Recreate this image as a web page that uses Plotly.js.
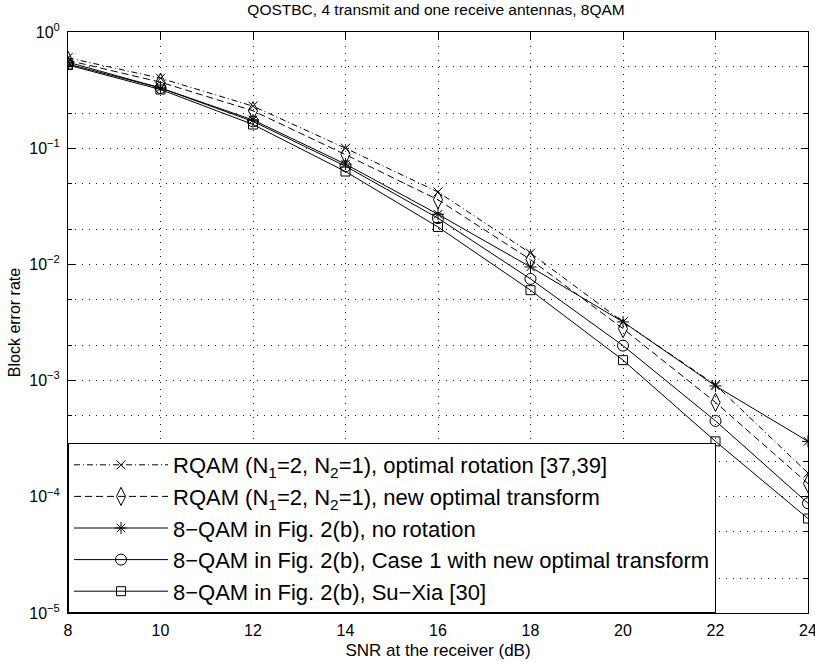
<!DOCTYPE html>
<html>
<head>
<meta charset="utf-8">
<script src="https://cdn.plot.ly/plotly-3.0.1.min.js"></script>
<style>html,body{margin:0;padding:0;background:#fff;overflow:hidden;}#chart{width:815px;height:662px;}</style>
</head>
<body>
<div id="chart"></div>
<script>
const snr = [8, 10, 12, 14, 16, 18, 20, 22, 24];
const rqamRotation = [0.60, 0.40, 0.23, 0.100, 0.042, 0.0125, 0.0032, 0.00092, 0.00016];
const rqamNewTransform = [0.57, 0.37, 0.21, 0.088, 0.036, 0.0110, 0.0028, 0.00065, 0.00013];
const qamNoRotation = [0.55, 0.33, 0.175, 0.073, 0.027, 0.0095, 0.0032, 0.00090, 0.00030];
const qamCase1 = [0.53, 0.33, 0.170, 0.070, 0.025, 0.0075, 0.0020, 0.00045, 0.000088];
const qamSuXia = [0.52, 0.32, 0.160, 0.063, 0.021, 0.0060, 0.0015, 0.00030, 0.000065];
const seriesNames = [
  'RQAM (N<sub>1</sub>=2, N<sub>2</sub>=1), optimal rotation [37,39]',
  'RQAM (N<sub>1</sub>=2, N<sub>2</sub>=1), new optimal transform',
  '8\u2212QAM in Fig. 2(b), no rotation',
  '8\u2212QAM in Fig. 2(b), Case 1 with new optimal transform',
  '8\u2212QAM in Fig. 2(b), Su\u2212Xia [30]'
];
const yTickVals = [1e-5, 1e-4, 1e-3, 1e-2, 1e-1, 1];
const yTickText = ['10<sup>\u22125</sup>', '10<sup>\u22124</sup>', '10<sup>\u22123</sup>', '10<sup>\u22122</sup>', '10<sup>\u22121</sup>', '10<sup>0</sup>'];
const xTickVals = [8, 10, 12, 14, 16, 18, 20, 22, 24];

const styles = [
  {dash: '6px,3px,1px,3px', symbol: 'x-thin-open', size: 9},
  {dash: '7px,4px', symbol: 'diamond-tall-open', size: 13},
  {dash: 'solid', symbol: 'asterisk-open', size: 10},
  {dash: 'solid', symbol: 'circle-open', size: 11},
  {dash: 'solid', symbol: 'square-open', size: 9}
];
const seriesData = [rqamRotation, rqamNewTransform, qamNoRotation, qamCase1, qamSuXia];

const traces = seriesData.map((ys, i) => ({
  x: snr, y: ys, name: seriesNames[i], type: 'scatter', mode: 'lines+markers',
  line: {color: '#000', width: 1, dash: styles[i].dash},
  marker: {symbol: styles[i].symbol, size: styles[i].size, color: '#000', line: {color: '#000', width: 1}}
}));

const font = 'Liberation Sans, Arial, Helvetica, sans-serif';
const gridDash = '1px,6px';
const layout = {
  width: 815, height: 662,
  margin: {l: 68, r: 7, t: 32, b: 49},
  paper_bgcolor: '#fff', plot_bgcolor: '#fff',
  font: {family: font, color: '#000', size: 16},
  title: {text: 'QOSTBC, 4 transmit and one receive antennas, 8QAM', font: {size: 15.5, family: font}, x: 0.535, xanchor: 'center', y: 0.993, yanchor: 'top'},
  showlegend: true,
  legend: {x: 0, y: 0, xanchor: 'left', yanchor: 'bottom', bgcolor: '#fff', bordercolor: '#000', borderwidth: 1,
           font: {size: 22, family: font}, itemwidth: 94, tracegroupgap: 0},
  xaxis: {
    type: 'linear', range: [8, 24], tickvals: xTickVals, ticks: 'inside', ticklen: 7, tickcolor: '#000',
    showline: true, linecolor: '#000', linewidth: 1, mirror: 'ticks', ticklabeloverflow: 'allow', ticklabelstandoff: 3,
    showgrid: true, gridcolor: '#222', griddash: gridDash, gridwidth: 1, zeroline: false,
    tickfont: {size: 16}, title: {text: 'SNR at the receiver (dB)', font: {size: 17}, standoff: 5}
  },
  yaxis: {
    type: 'log', range: [-5, 0], tickvals: yTickVals, ticktext: yTickText, ticks: 'inside', ticklen: 7, tickcolor: '#000',
    showline: true, linecolor: '#000', linewidth: 1, mirror: 'ticks', ticklabelstandoff: 4,
    showgrid: true, gridcolor: '#222', griddash: gridDash, gridwidth: 1, zeroline: false,
    minor: {showgrid: true, gridcolor: '#222', griddash: gridDash, gridwidth: 1, ticks: 'inside', ticklen: 4, tickcolor: '#000'},
    tickfont: {size: 16}, title: {text: 'Block error rate', font: {size: 16}, standoff: 4}
  }
};
Plotly.newPlot('chart', traces, layout, {displayModeBar: false, staticPlot: true});
</script>
</body>
</html>
